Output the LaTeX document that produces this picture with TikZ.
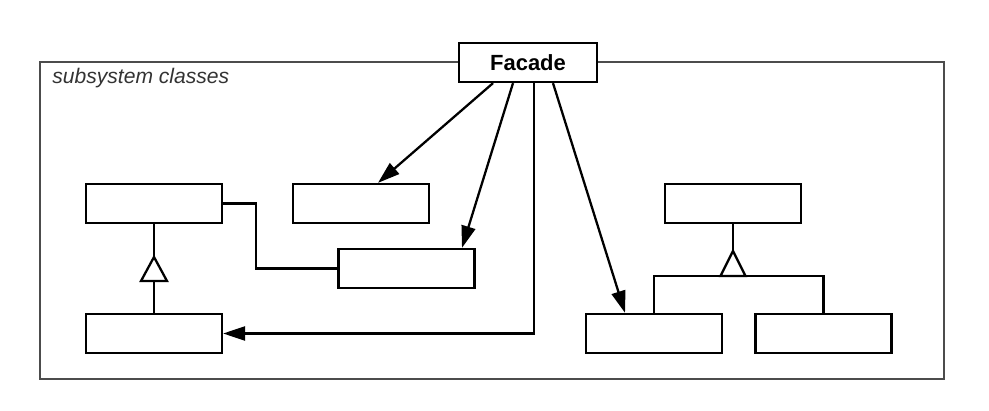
\documentclass[tikz,border=0pt]{standalone}
\usepackage{fontspec}
\setmainfont{Liberation Sans}
\usetikzlibrary{arrows.meta}
\begin{document}
\begin{tikzpicture}[x=0.02cm,y=-0.02cm]
\tikzstyle{every node}+=[inner sep=0pt]
\tikzstyle{cls}=[draw,black,line width=1.3pt,fill=white,minimum width=2.72cm,minimum height=0.78cm]
\tikzstyle{assoc}=[black,line width=1.3pt,-{Triangle[length=12.5pt,width=8pt]}]
\tikzstyle{link}=[black,line width=1.3pt]
\useasboundingbox (0,0) rectangle (989,411);
\draw [black!70,line width=1.4pt] (40,62) rectangle (944,379);
\node (title) at (52,84) [anchor=base west,font=\itshape\fontsize{12}{14}\selectfont,black!80] {subsystem classes};
\node (A) [cls] at (154,203.5) {};
\node (B) [cls] at (361,203.5) {};
\node (C) [cls] at (406.5,268.5) {};
\node (D) [cls] at (154,333.5) {};
\node (E) [cls] at (733,203.5) {};
\node (F) [cls] at (654,333.5) {};
\node (G) [cls] at (823.5,333.5) {};
\node (Facade) [cls,minimum width=2.76cm,font=\bfseries\fontsize{12.5}{14}\selectfont] at (528,62.5) {Facade};
\coordinate (tipA) at (154,257);
\coordinate (baseA) at (154,281);
\coordinate (tipE) at (733,251);
\coordinate (baseE) at (733,276);
% left hierarchy
\draw [link] (A.south) -- (tipA);
\draw [link] (baseA) -- (D.north);
\draw [link,fill=white] (tipA) -- ++(-13,24) -- ++(26,0) -- cycle;
\draw [link] (A.east) -- ++(33,0) |- (C.west);
% right hierarchy
\draw [link] (E.south) -- (tipE);
\draw [link] (F.north) |- (baseE) -| (G.north);
\draw [link,fill=white] (tipE) -- ++(-12.5,25) -- ++(25,0) -- cycle;
% facade
\draw [assoc] (Facade.south) ++(-35,0) -- ([xshift=0.34cm]B.north);
\draw [assoc] (Facade.south) ++(-15,0) -- ([xshift=1.11cm]C.north);
\draw [assoc] (Facade.south) ++(6,0) |- (D.east);
\draw [assoc] (Facade.south) ++(25,0) -- ([xshift=-0.58cm]F.north);
\end{tikzpicture}
\end{document}
